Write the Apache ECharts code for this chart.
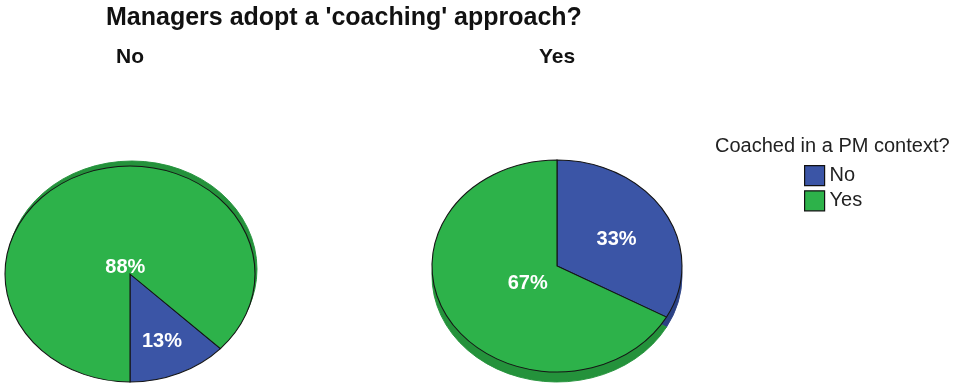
<!DOCTYPE html>
<html>
<head>
<meta charset="utf-8">
<title>Managers adopt a 'coaching' approach?</title>
<script src="https://cdn.jsdelivr.net/npm/echarts@6/dist/echarts.min.js"></script>
<style>
  html, body { margin: 0; padding: 0; background: #fff; }
  #chart { width: 954px; height: 385px; }
</style>
</head>
<body>
<div id="chart"></div>
<script>
// Panels: answer to "Managers adopt a 'coaching' approach?"
const panels = ['No', 'Yes'];
// Slices: answer to "Coached in a PM context?"
const categories = ['No', 'Yes'];
// Percentages per panel (left panel "No", right panel "Yes")
const coachedNo = [13, 33];
const coachedYes = [88, 67];

const seriesValues = [coachedNo, coachedYes];

const FONT = '"Liberation Sans", Arial, sans-serif';
const faceColors = ['#3b55a6', '#2db24a'];
const rimColors = ['#2c4285', '#24923b'];

// Geometry of each tilted pie (ellipse radii, start angle measured clockwise
// from 12 o'clock, drawing direction and the offset of the 3D side band).
const pieLayout = [
  { cx: 130, cy: 274, rx: 125, ry: 108, start: 180, clockwise: false, rimDx: 2, rimDy: -5 },
  { cx: 557, cy: 266, rx: 125, ry: 106, start: 0, clockwise: true, rimDx: 0, rimDy: 10 }
];
const labelDy = 3;

function renderSlice(params, api) {
  const p = params.dataIndex;
  const s = params.seriesIndex;
  const geo = pieLayout[p];
  const vals = seriesValues.map(arr => arr[p]);
  const total = vals.reduce((a, b) => a + b, 0);
  let before = 0;
  for (let i = 0; i < s; i++) before += vals[i];
  const value = api.value(0);
  const dir = geo.clockwise ? 1 : -1;
  const a1 = geo.start + dir * before / total * 360;
  const a2 = geo.start + dir * (before + value) / total * 360;
  const lo = Math.min(a1, a2);
  const hi = Math.max(a1, a2);
  const toRad = a => (a - 90) * Math.PI / 180;
  const k = geo.ry / geo.rx;
  const shape = {
    cx: 0, cy: 0, r0: 0, r: geo.rx,
    startAngle: toRad(lo), endAngle: toRad(hi), clockwise: true
  };
  // label sits on the centroid of the sector
  const theta = (hi - lo) * Math.PI / 180;
  const mid = (lo + hi) / 2 * Math.PI / 180;
  const d = 4 * geo.rx * Math.sin(theta / 2) / (3 * theta);
  return {
    type: 'group',
    children: [
      {
        type: 'sector',
        x: geo.cx + geo.rimDx, y: geo.cy + geo.rimDy, scaleY: k,
        shape: shape,
        style: { fill: rimColors[s], stroke: rimColors[s], lineWidth: 1 },
        z2: 1
      },
      {
        type: 'sector',
        x: geo.cx, y: geo.cy, scaleY: k,
        shape: shape,
        style: { fill: faceColors[s], stroke: '#151515', lineWidth: 1.1 },
        z2: 10
      },
      {
        type: 'text',
        x: geo.cx + d * Math.sin(mid),
        y: geo.cy - d * Math.cos(mid) * k + labelDy,
        style: {
          text: value + '%',
          fill: '#ffffff',
          fontSize: 20,
          fontWeight: 'bold',
          fontFamily: FONT,
          align: 'center',
          verticalAlign: 'middle'
        },
        z2: 20
      }
    ]
  };
}

const chart = echarts.init(document.getElementById('chart'), null, { renderer: 'canvas' });

const textStyleBase = { fontFamily: FONT, fill: '#111' };

chart.setOption({
  animation: false,
  backgroundColor: '#ffffff',
  graphic: [
    {
      type: 'text', x: 106, y: 18,
      style: Object.assign({}, textStyleBase, {
        text: "Managers adopt a 'coaching' approach?",
        fontSize: 25, fontWeight: 'bold', align: 'left', verticalAlign: 'middle'
      })
    },
    {
      type: 'text', x: pieLayout[0].cx, y: 57,
      style: Object.assign({}, textStyleBase, {
        text: panels[0], fontSize: 21, fontWeight: 'bold', align: 'center', verticalAlign: 'middle'
      })
    },
    {
      type: 'text', x: pieLayout[1].cx, y: 57,
      style: Object.assign({}, textStyleBase, {
        text: panels[1], fontSize: 21, fontWeight: 'bold', align: 'center', verticalAlign: 'middle'
      })
    },
    {
      type: 'text', x: 715, y: 146,
      style: Object.assign({}, textStyleBase, {
        text: 'Coached in a PM context?', fill: '#222',
        fontSize: 20, align: 'left', verticalAlign: 'middle'
      })
    }
  ],
  legend: {
    data: categories,
    orient: 'vertical',
    left: 804,
    top: 165,
    padding: 0,
    itemWidth: 20,
    itemHeight: 20,
    itemGap: 4,
    icon: 'rect',
    selectedMode: false,
    itemStyle: { borderColor: '#111', borderWidth: 1.2 },
    textStyle: { fontSize: 20, color: '#222', fontFamily: FONT, padding: [0, 0, 0, 0] }
  },
  series: categories.map((name, i) => ({
    type: 'custom',
    name: name,
    coordinateSystem: 'none',
    silent: true,
    itemStyle: { color: faceColors[i] },
    renderItem: renderSlice,
    data: seriesValues[i]
  }))
});
</script>
</body>
</html>
